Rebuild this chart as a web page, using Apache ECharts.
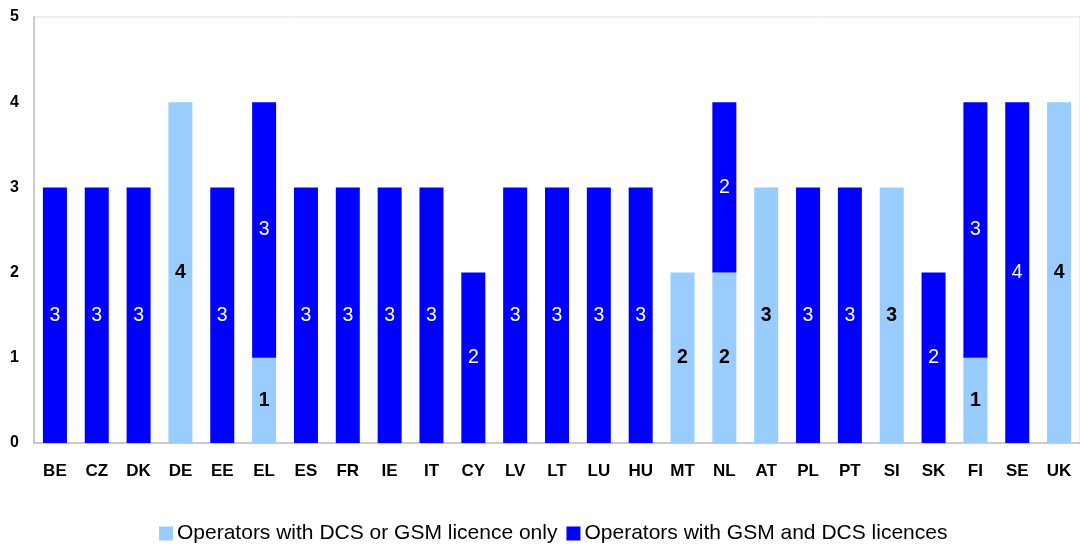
<!DOCTYPE html>
<html>
<head>
<meta charset="utf-8">
<script src="https://cdn.jsdelivr.net/npm/echarts@6/dist/echarts.min.js"></script>
<style>
  html, body { margin: 0; padding: 0; background: #fff; }
  #chart { width: 1080px; height: 546px; }
</style>
</head>
<body>
<div id="chart"></div>
<script>
  // country codes along the x axis
  const countries = ['BE', 'CZ', 'DK', 'DE', 'EE', 'EL', 'ES', 'FR', 'IE', 'IT', 'CY', 'LV', 'LT',
    'LU', 'HU', 'MT', 'NL', 'AT', 'PL', 'PT', 'SI', 'SK', 'FI', 'SE', 'UK']
  // operators with only one licence (light blue, bottom of the stack)
  const singleLicence = [0, 0, 0, 4, 0, 1, 0, 0, 0, 0, 0, 0, 0, 0, 0, 2, 2, 3, 0, 0, 3, 0, 1, 0, 4]
  // operators with both licences (dark blue, on top)
  const bothLicences = [3, 3, 3, 0, 3, 3, 3, 3, 3, 3, 2, 3, 3, 3, 3, 0, 2, 0, 3, 3, 0, 2, 3, 4, 0]
  const yTicks = [0, 1, 2, 3, 4, 5]

  const font = 'Liberation Sans, Arial, sans-serif'
  const hideZero = p => (p.value === 0 ? '' : String(p.value))

  const chart = echarts.init(document.getElementById('chart'))
  chart.setOption({
    animation: false,
    textStyle: {fontFamily: font},
    grid: {
      left: 34,
      right: -1,
      top: 17,
      bottom: 103,
      show: true,
      borderColor: '#dddddd',
      borderWidth: 1
    },
    legend: {
      top: 518,
      left: 154,
      itemWidth: 14,
      itemHeight: 14,
      itemGap: 9,
      icon: 'rect',
      textStyle: {fontFamily: font, fontSize: 21, color: '#000', padding: [0, 0, 0, -1]},
      data: ['Operators with DCS or GSM licence only', 'Operators with GSM and DCS licences']
    },
    xAxis: {
      type: 'category',
      data: countries,
      axisLine: {lineStyle: {color: '#c0c0c0', width: 1.5}},
      axisTick: {show: false},
      axisLabel: {
        interval: 0,
        margin: 20,
        fontFamily: font,
        fontSize: 17,
        fontWeight: 'bold',
        color: '#000'
      }
    },
    yAxis: {
      type: 'value',
      min: yTicks[0],
      max: yTicks[yTicks.length - 1],
      interval: 1,
      axisLine: {show: true, lineStyle: {color: '#c0c0c0', width: 1.5}},
      axisTick: {show: false},
      splitLine: {show: false},
      axisLabel: {
        margin: 15,
        fontFamily: font,
        fontSize: 16,
        fontWeight: 'bold',
        color: '#000'
      }
    },
    series: [{
      name: 'Operators with DCS or GSM licence only',
      type: 'bar',
      stack: 'ops',
      barWidth: 24,
      data: singleLicence,
      itemStyle: {color: '#99ccff'},
      label: {
        show: true,
        position: 'inside',
        formatter: hideZero,
        fontFamily: font,
        fontSize: 19.5,
        fontWeight: 'bold',
        color: '#000'
      }
    }, {
      name: 'Operators with GSM and DCS licences',
      type: 'bar',
      stack: 'ops',
      barWidth: 24,
      data: bothLicences,
      itemStyle: {color: '#0000ff'},
      label: {
        show: true,
        position: 'inside',
        formatter: hideZero,
        fontFamily: font,
        fontSize: 19.5,
        color: '#fff'
      }
    }]
  })
</script>
</body>
</html>
